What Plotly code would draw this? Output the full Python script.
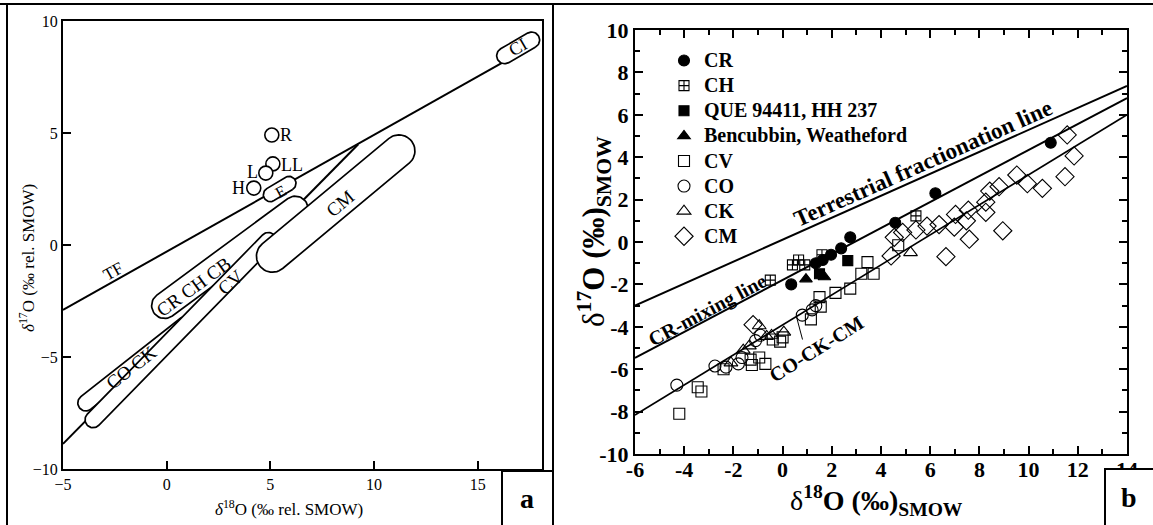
import numpy as np
import plotly.graph_objects as go

W, H = 1153, 525
FONT = "Liberation Serif"

# ---------------- Panel a data ----------------
a_xrange = [-5, 18.1]
a_yrange = [-10, 10]
tf_a_x = [-5, 16.3]
tf_a_y = [-2.9, 8.2]
ccam_a_x = [-5, 9.24]
ccam_a_y = [-8.88, 4.5]

# capsules: name, start (x,y), end (x,y), half-width in px
cap_names = ["CI", "E", "CR CH CB", "CO CK", "CV", "CM"]
cap_x0 = [16.3, 5.0, -0.1, -3.9, -3.55, 5.1]
cap_y0 = [8.45, 2.25, -2.7, -7.05, -7.8, -0.5]
cap_x1 = [17.6, 5.9, 6.2, 0.9, 4.9, 11.2]
cap_y1 = [9.15, 2.75, 1.6, -3.55, 0.2, 4.2]
cap_r = [8, 7, 13, 8, 8, 16]

oc_names = ["R", "LL", "L", "H"]
oc_x = [5.07, 5.12, 4.78, 4.2]
oc_y = [4.91, 3.62, 3.21, 2.54]

# ---------------- Panel b data ----------------
b_xrange = [-6, 14]
b_yrange = [-10, 10]
tf_b_x = [-6, 14]
tf_b_y = [-3.0, 7.36]
crmix_x = [-6, 14]
crmix_y = [-5.47, 6.79]
cockcm_x = [-6, 14]
cockcm_y = [-8.16, 6.0]
pointer_x = [0.57, 0.81]
pointer_y = [-3.55, -4.6]

cr_x = [0.35, 1.35, 1.63, 1.97, 2.38, 2.75, 4.58, 6.21, 10.9]
cr_y = [-2.0, -1.0, -0.85, -0.6, -0.3, 0.22, 0.91, 2.3, 4.68]
ch_x = [-0.5, 0.4, 0.9, 0.65, 1.6, 5.42]
ch_y = [-1.8, -1.08, -1.08, -0.85, -0.6, 1.23]
que_x = [1.5, 2.65]
que_y = [-1.5, -0.88]
ben_x = [0.95, 1.7]
ben_y = [-1.75, -1.65]
cv_x = [-4.2, -3.45, -3.3, -2.4, -1.3, -0.95, -0.7, -1.25, -0.4, -0.1, 0.0,
        1.15, 1.55, 1.5, 2.15, 2.75, 3.2, 3.7, 3.45, 4.7]
cv_y = [-8.1, -6.85, -7.05, -6.0, -5.55, -5.45, -5.75, -5.8, -4.6, -4.7, -4.5,
        -3.65, -3.05, -2.6, -2.4, -2.2, -1.5, -1.5, -0.95, -0.15]
co_x = [-4.3, -2.75, -2.3, -1.8, -1.65, -1.1, -0.9, 0.8, 1.2, 1.35]
co_y = [-6.75, -5.85, -5.9, -5.75, -5.45, -4.65, -4.4, -3.45, -3.2, -3.0]
ck_x = [-2.1, -1.6, -1.35, -0.95, -0.65, -0.45, 0.05, 5.2]
ck_y = [-5.7, -5.1, -4.9, -3.95, -4.45, -4.4, -4.25, -0.5]
cm_x = [-1.2, 11.57, 11.85, 11.48, 10.56, 9.95, 9.52, 8.8, 8.42, 8.26, 8.26,
        8.95, 7.55, 7.47, 7.03, 7.59, 6.98, 6.64, 6.36, 5.87, 5.42, 4.88,
        4.54, 4.41]
cm_y = [-3.9, 5.05, 4.06, 3.08, 2.53, 2.75, 3.16, 2.61, 2.4, 1.88, 1.4,
        0.53, 1.5, 1.0, 1.3, 0.13, 0.7, -0.69, 0.82, 0.75, 0.57, 0.45,
        0.22, -0.66]

b_xticks = [-6, -4, -2, 0, 2, 4, 6, 8, 10, 12, 14]
b_yticks = [-10, -8, -6, -4, -2, 0, 2, 4, 6, 8, 10]

# ---------------- layout geometry (px) ----------------
A_L, A_R, A_T, A_B = 63, 542, 21, 469
B_L, B_R, B_T, B_B = 635, 1127, 30, 454


def px2paper_x(p):
    return p / W


def px2paper_y(p):
    return 1 - p / H


a_sx = (A_R - A_L) / (a_xrange[1] - a_xrange[0])
a_sy = (A_B - A_T) / (a_yrange[1] - a_yrange[0])


def stadium(x0, y0, x1, y1, r, sx, sy, n=24):
    X0, Y0, X1, Y1 = x0 * sx, y0 * sy, x1 * sx, y1 * sy
    phi = np.arctan2(Y1 - Y0, X1 - X0)
    t1 = np.linspace(phi - np.pi / 2, phi + np.pi / 2, n)
    t0 = np.linspace(phi + np.pi / 2, phi + 3 * np.pi / 2, n)
    xs = np.concatenate([X1 + r * np.cos(t1), X0 + r * np.cos(t0), [X1 + r * np.cos(t1[0])]])
    ys = np.concatenate([Y1 + r * np.sin(t1), Y0 + r * np.sin(t0), [Y1 + r * np.sin(t1[0])]])
    return xs / sx, ys / sy


fig = go.Figure()

# panel a lines
for lx, ly in [(tf_a_x, tf_a_y), (ccam_a_x, ccam_a_y)]:
    fig.add_trace(go.Scatter(x=lx, y=ly, mode="lines", line=dict(color="black", width=2),
                             xaxis="x", yaxis="y", showlegend=False, hoverinfo="skip"))
# capsules
for i in range(len(cap_names)):
    cx, cy = stadium(cap_x0[i], cap_y0[i], cap_x1[i], cap_y1[i], cap_r[i], a_sx, a_sy)
    fig.add_trace(go.Scatter(x=cx, y=cy, mode="lines", fill="toself", fillcolor="white",
                             line=dict(color="black", width=1.7), xaxis="x", yaxis="y",
                             showlegend=False, hoverinfo="skip"))
fig.add_trace(go.Scatter(x=oc_x, y=oc_y, mode="markers",
                         marker=dict(symbol="circle", size=14, color="white",
                                     line=dict(color="black", width=1.6)),
                         xaxis="x", yaxis="y", showlegend=False, hoverinfo="skip"))

# panel b lines
for lx, ly, w in [(tf_b_x, tf_b_y, 2), (crmix_x, crmix_y, 2), (cockcm_x, cockcm_y, 1.6),
                  (pointer_x, pointer_y, 1)]:
    fig.add_trace(go.Scatter(x=lx, y=ly, mode="lines", line=dict(color="black", width=w),
                             xaxis="x2", yaxis="y2", showlegend=False, hoverinfo="skip"))

series = [
    ("CR", cr_x, cr_y, "circle", 11, "black"),
    ("CH", ch_x, ch_y, "square-cross-open", 10, "black"),
    ("QUE 94411, HH 237", que_x, que_y, "square", 10, "black"),
    ("Bencubbin, Weatheford", ben_x, ben_y, "triangle-up", 11, "black"),
    ("CV", cv_x, cv_y, "square-open", 11, "black"),
    ("CO", co_x, co_y, "circle-open", 12, "black"),
    ("CK", ck_x, ck_y, "triangle-up-open", 12, "black"),
    ("CM", cm_x, cm_y, "diamond-open", 14, "black"),
]
for name, sx_, sy_, sym, sz, col in series:
    fig.add_trace(go.Scatter(x=sx_, y=sy_, mode="markers",
                             name=f'<span style="font-size:20px">{name}</span>',
                             marker=dict(symbol=sym, size=sz, color=col,
                                         line=dict(color="black", width=1.1)),
                             xaxis="x2", yaxis="y2"))

axis_common = dict(showgrid=False, zeroline=False, showline=True, linecolor="black",
                   linewidth=2, ticks="inside", tickcolor="black", automargin=False)

fig.update_layout(
    width=W, height=H, margin=dict(l=0, r=0, t=0, b=0, pad=0, autoexpand=False),
    paper_bgcolor="white", plot_bgcolor="white",
    font=dict(family=FONT, color="black"),
    xaxis=dict(domain=[px2paper_x(A_L), px2paper_x(A_R)], range=a_xrange, anchor="y",
               tickvals=[-5, 0, 5, 10, 15], ticklen=8, tickwidth=1.5, mirror=True,
               tickfont=dict(family=FONT, size=16), **axis_common),
    yaxis=dict(domain=[px2paper_y(A_B), px2paper_y(A_T)], range=a_yrange, anchor="x",
               tickvals=[-10, -5, 0, 5, 10], ticklen=8, tickwidth=1.5, mirror=True,
               tickfont=dict(family=FONT, size=16), **axis_common),
    xaxis2=dict(domain=[px2paper_x(B_L), px2paper_x(B_R)], range=b_xrange, anchor="y2",
                tickvals=b_xticks, ticktext=[str(v) for v in b_xticks],
                ticklen=8, tickwidth=2, mirror="allticks", ticklabelstandoff=-5,
                minor=dict(dtick=1, ticklen=5, tickwidth=1.5, ticks="inside", tickcolor="black"),
                tickfont=dict(family=FONT, size=22, weight="bold"), **axis_common),
    yaxis2=dict(domain=[px2paper_y(B_B), px2paper_y(B_T)], range=b_yrange, anchor="x2",
                tickvals=b_yticks, ticktext=[str(v) for v in b_yticks],
                ticklen=8, tickwidth=2, mirror="allticks",
                minor=dict(dtick=1, ticklen=5, tickwidth=1.5, ticks="inside", tickcolor="black"),
                tickfont=dict(family=FONT, size=22, weight="bold"), **axis_common),
    legend=dict(x=px2paper_x(664), y=px2paper_y(43), xanchor="left", yanchor="top",
                bgcolor="rgba(0,0,0,0)", font=dict(family=FONT, size=17, weight="bold"),
                tracegroupgap=0, itemwidth=30),
)

shapes = [
    dict(type="line", xref="paper", yref="paper", x0=0, x1=1, y0=px2paper_y(4), y1=px2paper_y(4),
         line=dict(color="black", width=2)),
    dict(type="line", xref="paper", yref="paper", x0=px2paper_x(7), x1=px2paper_x(7), y0=0,
         y1=px2paper_y(4), line=dict(color="black", width=2)),
    dict(type="line", xref="paper", yref="paper", x0=px2paper_x(553), x1=px2paper_x(553), y0=0,
         y1=px2paper_y(4), line=dict(color="black", width=2)),
    dict(type="rect", xref="paper", yref="paper", x0=px2paper_x(502), x1=px2paper_x(553),
         y0=-0.01, y1=px2paper_y(471), fillcolor="white", line=dict(color="black", width=2),
         layer="above"),
    dict(type="rect", xref="paper", yref="paper", x0=px2paper_x(1105), x1=1.01,
         y0=-0.01, y1=px2paper_y(469), fillcolor="white", line=dict(color="black", width=2),
         layer="above"),
]
fig.update_layout(shapes=shapes)

ann = []


def add_text(px, py, text, size, angle=0, bold=False):
    t = f"<b>{text}</b>" if bold else text
    ann.append(dict(x=px2paper_x(px), y=px2paper_y(py), xref="paper", yref="paper", text=t,
                    showarrow=False, textangle=angle, xanchor="center", yanchor="middle",
                    font=dict(family=FONT, size=size, color="black")))


# panel a labels
add_text(289, 508, "<i>δ</i><sup>18</sup>O (‰ rel. SMOW)", 17)
add_text(27, 258, "<i>δ</i><sup>17</sup>O (‰ rel. SMOW)", 17, angle=-90)
add_text(286, 135, "R", 18)
add_text(292, 165, "LL", 18)
add_text(252, 172, "L", 18)
add_text(238, 188, "H", 18)
add_text(281, 192, "E", 16, angle=-28)
add_text(518, 47, "CI", 18, angle=-30)
add_text(340, 203, "CM", 19, angle=-40)
add_text(194, 286, "CR CH CB", 19, angle=-36)
add_text(230, 282, "CV", 19, angle=-42)
add_text(131, 367, "CO CK", 19, angle=-38)
add_text(113, 271, "TF", 17, angle=-29)
add_text(527, 498, "a", 28, bold=True)

# panel b labels
add_text(876, 500, "δ<b><sup>18</sup>O (‰)<sub>SMOW</sub></b>", 28)
add_text(594, 232, "δ<b><sup>17</sup>O (‰)<sub>SMOW</sub></b>", 31, angle=-90)
add_text(923, 163, "Terrestrial fractionation line", 23, angle=-24, bold=True)
add_text(707, 310, "CR-mixing line", 20, angle=-28, bold=True)
add_text(816, 349, "CO-CK-CM", 20, angle=-32, bold=True)
add_text(1129, 497, "b", 28, bold=True)

fig.update_layout(annotations=ann)
fig.write_html("out.html")
